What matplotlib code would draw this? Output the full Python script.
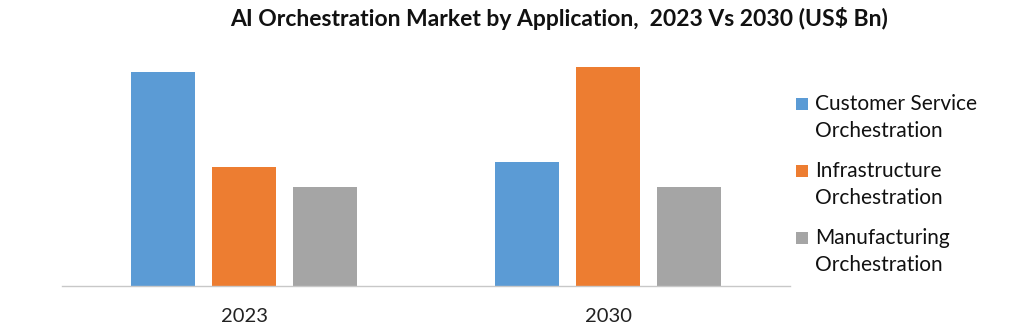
import matplotlib
matplotlib.use("Agg")
import matplotlib.pyplot as plt
from matplotlib.patches import Rectangle
import numpy as np

categories = ["2023", "2030"]
series_names = ["Customer Service\nOrchestration", "Infrastructure\nOrchestration", "Manufacturing\nOrchestration"]
customer_service = [2.14, 1.24]
infrastructure = [1.19, 2.19]
manufacturing = [0.99, 0.99]
colors = ["#5B9BD5", "#ED7D31", "#A5A5A5"]
title = "AI Orchestration Market by Application,  2023 Vs 2030 (US$ Bn)"

plt.rcParams['font.family'] = ['Lato', 'DejaVu Sans']

fig = plt.figure(figsize=(10.24, 3.29), dpi=100)
ax = fig.add_axes([62/1024, 1-286/329, 728/1024, 226/329])

x = np.arange(len(categories))
w = 64/364
step = 81/364
for i, (vals, c) in enumerate(zip([customer_service, infrastructure, manufacturing], colors)):
    ax.bar(x + (i-1)*step, vals, width=w, color=c, edgecolor='none', zorder=2)

ax.set_xlim(-0.5, 1.5)
ax.set_ylim(0, 2.26)
ax.set_yticks([])
ax.set_xticks(x)
ax.set_xticklabels(categories, fontsize=14.5, color='#222222')
ax.tick_params(axis='x', length=0, pad=16)
for s in ['top', 'right', 'left']:
    ax.spines[s].set_visible(False)
ax.spines['bottom'].set_color('#C8C8C8')
ax.spines['bottom'].set_linewidth(1.0)

fig.text(559/1024, 1-19/329, title, ha='center', va='center', fontsize=16.5,
         fontweight='bold', color='#111111')

# legend
y_first = [104, 171, 238]
for name, c, yy in zip(series_names, colors, y_first):
    fig.patches.append(Rectangle((796/1024, 1-(yy+6)/329), 12/1024, 12/329,
                                 transform=fig.transFigure, facecolor=c, edgecolor='none'))
    fig.text(815/1024, 1-(yy-10)/329, name, ha='left', va='top', fontsize=15,
             color='#111111', linespacing=1.45)

fig.savefig("out.png", dpi=100)
